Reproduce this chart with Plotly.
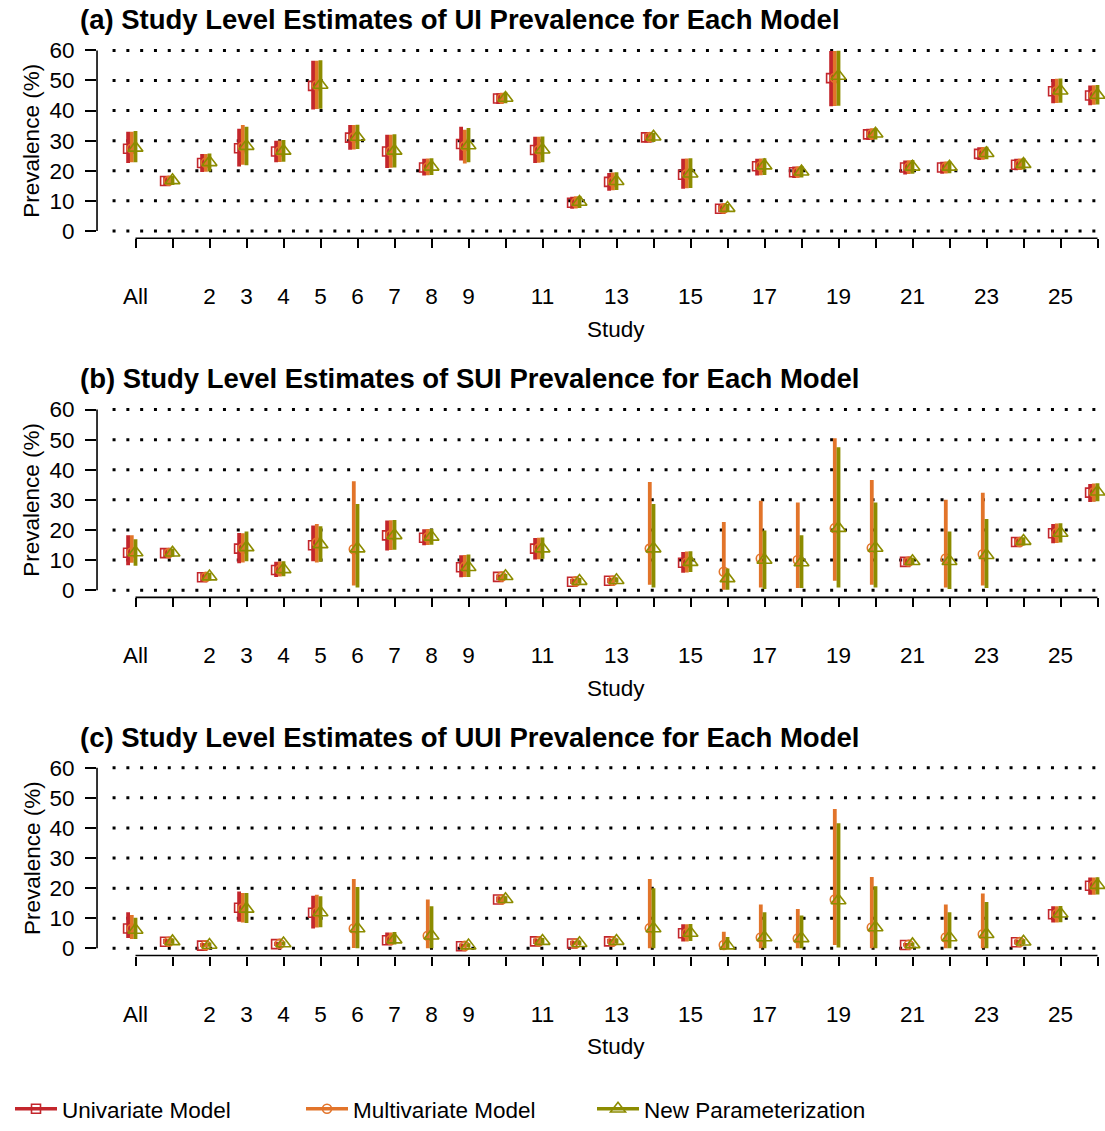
import plotly.graph_objects as go

# ---------------------------------------------------------------------------
# Data: study-level prevalence (%) estimates with 95% interval bounds
# index 0 = pooled ("All"), 1..26 = individual studies; None = not estimated
# ---------------------------------------------------------------------------
positions = list(range(27))
tick_labels = ["All", "", "2", "3", "4", "5", "6", "7", "8", "9", "", "11", "",
               "13", "", "15", "", "17", "", "19", "", "21", "", "23", "", "25", ""]
models = ["Univariate Model", "Multivariate Model", "New Parameterization"]

# (a) UI
ui_uni_est = [27.3, 16.6, 22.6, 27.5, 26.4, 48.2, 31.0, 26.4, 21.1, 28.9, 44.0, 26.9, 9.4, 16.3,
              31.1, 18.7, 7.4, 21.5, 19.5, 50.8, 32.1, 21.1, 21.1, 25.6, 22.0, 46.4, 45.0]
ui_uni_lo = [22.6, 15.2, 19.6, 21.4, 22.8, 40.4, 27.0, 20.9, 18.4, 23.4, 42.2, 22.6, 7.4, 13.4,
             29.4, 14.0, 6.2, 18.4, 17.6, 41.4, 30.2, 18.8, 19.0, 23.6, 20.2, 42.4, 41.8]
ui_uni_hi = [33.0, 18.2, 25.6, 34.0, 30.0, 56.6, 35.2, 32.0, 24.0, 34.6, 45.8, 31.3, 11.4, 19.3,
             32.4, 24.0, 8.8, 24.0, 21.4, 59.8, 34.0, 23.4, 23.0, 27.8, 24.0, 50.5, 48.3]
ui_mult_est = [27.4, 16.7, 22.7, 28.0, 26.5, 48.4, 31.1, 26.5, 21.2, 28.2, 44.1, 26.9, 9.5, 16.4,
               31.2, 18.9, 7.5, 21.6, 19.6, 50.9, 32.2, 21.2, 21.2, 25.7, 22.1, 46.5, 45.1]
ui_mult_lo = [22.8, 15.2, 19.7, 22.0, 22.9, 40.5, 27.1, 21.0, 18.5, 22.4, 42.3, 22.7, 7.5, 13.5,
              29.5, 14.2, 6.3, 18.5, 17.7, 41.5, 30.3, 18.9, 19.1, 23.7, 20.3, 42.5, 41.9]
ui_mult_hi = [33.0, 18.2, 25.6, 35.2, 30.1, 56.6, 35.2, 32.0, 24.1, 33.6, 45.9, 31.3, 11.5, 19.4,
              32.5, 24.1, 8.9, 24.1, 21.5, 59.8, 34.1, 23.5, 23.1, 27.9, 24.1, 50.6, 48.4]
ui_new_est = [27.6, 16.8, 22.8, 28.2, 26.6, 48.5, 31.2, 26.6, 21.3, 28.4, 44.2, 27.0, 9.6, 16.5,
              31.3, 19.0, 7.6, 21.7, 19.7, 51.5, 32.3, 21.3, 21.3, 25.8, 22.2, 46.6, 45.2]
ui_new_lo = [22.8, 15.3, 19.8, 21.8, 23.0, 40.6, 27.2, 21.1, 18.6, 22.8, 42.4, 22.8, 7.6, 13.6,
             29.6, 14.3, 6.4, 18.6, 17.8, 41.6, 30.4, 19.0, 19.2, 23.8, 20.4, 42.6, 42.0]
ui_new_hi = [33.2, 18.3, 25.7, 34.6, 30.2, 56.7, 35.3, 32.1, 24.2, 34.2, 46.0, 31.4, 11.6, 19.5,
             32.6, 24.2, 9.0, 24.2, 21.6, 59.9, 34.2, 23.6, 23.2, 28.0, 24.2, 50.7, 48.5]

# (b) SUI
sui_uni_est = [12.4, 12.3, 4.3, 13.8, 6.7, 14.9, None, 18.2, 17.4, 7.6, 4.4, 13.8, 2.8, 3.1,
               None, 9.1, None, None, None, None, None, 9.4, None, None, 16.0, 18.9, 32.4]
sui_uni_lo = [8.3, 11.0, 3.0, 8.9, 4.4, 9.6, None, 13.2, 14.9, 4.3, 3.4, 10.2, 2.0, 2.3,
              None, 5.8, None, None, None, None, None, 8.3, None, None, 14.6, 15.6, 29.3]
sui_uni_hi = [18.2, 13.6, 5.6, 19.0, 9.4, 21.5, None, 23.1, 20.2, 11.6, 5.2, 17.3, 3.8, 4.0,
              None, 12.7, None, None, None, None, None, 10.6, None, None, 17.4, 22.0, 35.3]
sui_mult_est = [12.6, 12.3, 4.4, 14.0, 6.8, 15.8, 13.6, 18.3, 17.6, 7.8, 4.5, 13.9, 2.9, 3.1,
                13.8, 9.2, 6.1, 10.5, 10.0, 20.6, 14.0, 9.5, 10.5, 11.9, 16.0, 19.0, 32.5]
sui_mult_lo = [9.1, 11.0, 3.1, 9.2, 4.5, 9.2, 1.5, 13.3, 15.0, 4.4, 3.5, 10.3, 2.1, 2.4,
               1.8, 5.9, 0.1, 0.9, 0.7, 3.1, 1.8, 8.4, 0.9, 1.5, 14.7, 15.7, 29.4]
sui_mult_hi = [18.2, 13.7, 5.7, 18.9, 9.5, 22.0, 36.2, 23.2, 20.3, 11.7, 5.3, 17.4, 3.9, 4.1,
               35.9, 12.8, 22.6, 29.7, 29.1, 50.5, 36.6, 10.7, 30.0, 32.4, 17.5, 22.1, 35.4]
sui_new_est = [12.5, 12.4, 4.5, 14.2, 6.9, 15.2, 13.8, 18.2, 17.7, 7.6, 4.6, 13.8, 3.0, 3.3,
               13.8, 9.3, 3.9, 10.0, 9.2, 20.6, 14.0, 9.6, 9.6, 11.6, 16.3, 19.0, 32.7]
sui_new_lo = [8.1, 11.1, 3.2, 9.6, 4.6, 9.4, 0.9, 13.4, 15.1, 4.4, 3.6, 10.4, 2.2, 2.5,
              0.9, 6.0, 0.1, 0.4, 0.7, 0.9, 0.9, 8.5, 0.4, 0.7, 14.8, 15.8, 29.5]
sui_new_hi = [16.9, 13.8, 5.8, 19.5, 9.6, 21.2, 28.6, 23.3, 20.4, 11.8, 5.4, 17.5, 4.0, 4.2,
              28.6, 12.9, 7.2, 19.8, 18.2, 47.5, 29.1, 10.8, 19.5, 23.6, 17.6, 22.2, 35.5]

# (c) UUI
uui_uni_est = [6.6, 2.2, 0.9, 13.5, 1.4, 11.8, None, 2.7, None, 0.7, 16.2, 2.3, 1.6, 2.3,
               None, 5.0, None, None, None, None, None, 1.1, None, None, 2.0, 11.3, 20.8]
uui_uni_lo = [3.4, 1.4, 0.4, 8.8, 0.8, 6.6, None, 1.2, None, 0.2, 15.2, 1.4, 1.0, 1.5,
              None, 2.3, None, None, None, None, None, 0.6, None, None, 1.3, 8.6, 17.8]
uui_uni_hi = [12.0, 3.2, 1.8, 18.9, 2.2, 17.5, None, 5.3, None, 1.6, 17.2, 3.3, 2.5, 3.2,
              None, 8.0, None, None, None, None, None, 1.8, None, None, 2.9, 14.0, 23.5]
uui_mult_est = [6.5, 2.2, 1.0, 13.3, 1.5, 12.0, 6.6, 2.8, 4.2, 0.8, 16.2, 2.3, 1.6, 2.3,
                6.7, 5.0, 1.1, 3.6, 3.3, 16.2, 6.9, 1.2, 3.6, 4.7, 2.1, 11.4, 20.9]
uui_mult_lo = [3.1, 1.4, 0.4, 8.6, 0.8, 6.9, 0.1, 1.2, 0.0, 0.2, 15.2, 1.4, 1.0, 1.5,
               0.0, 2.3, 0.0, 0.0, 0.0, 1.1, 0.0, 0.6, 0.0, 0.0, 1.3, 8.6, 17.8]
uui_mult_hi = [11.1, 3.2, 1.8, 18.4, 2.2, 17.8, 23.0, 5.3, 16.2, 1.6, 17.2, 3.3, 2.5, 3.2,
               23.0, 8.0, 5.5, 14.6, 13.1, 46.3, 23.7, 1.8, 14.6, 18.2, 2.9, 14.0, 23.5]
uui_new_est = [6.1, 2.3, 1.1, 13.1, 1.6, 11.9, 6.6, 2.9, 4.2, 0.9, 16.3, 2.4, 1.7, 2.4,
               6.6, 5.1, 0.9, 3.6, 3.3, 15.9, 6.9, 1.3, 3.6, 4.7, 2.2, 11.5, 21.0]
uui_new_lo = [3.1, 1.5, 0.5, 8.4, 0.9, 7.0, 0.0, 1.3, 0.0, 0.3, 15.3, 1.5, 1.1, 1.6,
              0.0, 2.4, 0.0, 0.0, 0.0, 0.3, 0.0, 0.7, 0.0, 0.0, 1.4, 8.7, 17.9]
uui_new_hi = [10.2, 3.3, 1.9, 18.4, 2.3, 17.3, 20.4, 5.4, 14.0, 1.7, 17.3, 3.4, 2.6, 3.3,
              20.0, 8.1, 3.8, 12.0, 10.9, 41.6, 20.6, 1.9, 12.0, 15.4, 3.0, 14.1, 23.6]

panels = [
    ("(a) Study Level Estimates of UI Prevalence for Each Model",
     [(ui_uni_est, ui_uni_lo, ui_uni_hi), (ui_mult_est, ui_mult_lo, ui_mult_hi),
      (ui_new_est, ui_new_lo, ui_new_hi)]),
    ("(b) Study Level Estimates of SUI Prevalence for Each Model",
     [(sui_uni_est, sui_uni_lo, sui_uni_hi), (sui_mult_est, sui_mult_lo, sui_mult_hi),
      (sui_new_est, sui_new_lo, sui_new_hi)]),
    ("(c) Study Level Estimates of UUI Prevalence for Each Model",
     [(uui_uni_est, uui_uni_lo, uui_uni_hi), (uui_mult_est, uui_mult_lo, uui_mult_hi),
      (uui_new_est, uui_new_lo, uui_new_hi)]),
]

# ---------------------------------------------------------------------------
# Styling
# ---------------------------------------------------------------------------
W, H = 1105, 1131
FONT = "Liberation Sans, Arial, Helvetica, sans-serif"
colors = ["#C3262C", "#E2742A", "#8C8C00"]
symbols = ["square-open", "circle-open", "triangle-up-open"]
msizes = [9, 9, 13]
offsets = [-0.2, -0.1, 0.0]

px_per_unit = 37.0
x_all_px = 135.5
x_range = [-1.04, (W - x_all_px) / px_per_unit]
y_range = [-2.4, 62.4]
panel_shift = [0, 364, 727]      # vertical pixel shift of each panel
y60_px, y0_px = 46.0, 229.0
ppy = (y0_px - y60_px) / 60.0


def py(p):
    return 1 - p / H


fig = go.Figure()
shapes, annotations = [], []

for k, (title, series) in enumerate(panels):
    s = panel_shift[k]
    xa = "x" if k == 0 else f"x{k + 1}"
    ya = "y" if k == 0 else f"y{k + 1}"
    bottom_px = y0_px + 2.4 * ppy + s
    top_px = y60_px - 2.4 * ppy + s

    fig.layout[("xaxis" if k == 0 else f"xaxis{k + 1}")] = dict(
        domain=[(x_all_px + x_range[0] * px_per_unit) / W, 1], range=x_range,
        anchor=ya, tickmode="array", tickvals=positions, ticktext=tick_labels,
        ticks="outside", ticklen=9, tickwidth=1.6, tickcolor="black",
        showline=False, showgrid=False, zeroline=False, ticklabelstandoff=29,
        tickfont=dict(family=FONT, size=22.5, color="black"), fixedrange=True)
    fig.layout[("yaxis" if k == 0 else f"yaxis{k + 1}")] = dict(
        domain=[py(bottom_px), py(top_px)], range=y_range, anchor=xa,
        tickmode="array", tickvals=[0, 10, 20, 30, 40, 50, 60],
        ticks="outside", ticklen=11, tickwidth=1.6, tickcolor="black",
        showline=False, showgrid=False, zeroline=False, ticklabelstandoff=6,
        tickfont=dict(family=FONT, size=22.5, color="black"), fixedrange=True)

    # dotted reference lines
    for v in range(0, 61, 10):
        shapes.append(dict(type="line", xref=xa, yref=ya, x0=-0.62, x1=x_range[1],
                           y0=v, y1=v, layer="below",
                           line=dict(color="black", width=3, dash="3px,10.8px")))
    # axis lines spanning only the tick range
    shapes.append(dict(type="line", xref=f"{xa} domain", yref=ya, x0=0, x1=0, y0=0, y1=60,
                       line=dict(color="black", width=1.6)))
    shapes.append(dict(type="line", xref=xa, yref=f"{ya} domain", x0=0, x1=26, y0=0, y1=0,
                       line=dict(color="black", width=1.6)))

    # estimates with interval bars
    for m, (est, lo, hi) in enumerate(series):
        up = [None if e is None else h - e for e, h in zip(est, hi)]
        dn = [None if e is None else e - l for e, l in zip(est, lo)]
        fig.add_trace(go.Scatter(
            x=[p + offsets[m] for p in positions], y=est, xaxis=xa, yaxis=ya,
            mode="markers", showlegend=False, cliponaxis=False, name=models[m],
            marker=dict(symbol=symbols[m], size=msizes[m], color=colors[m],
                        line=dict(width=1.6, color=colors[m])),
            error_y=dict(type="data", symmetric=False, array=up, arrayminus=dn,
                         thickness=3.8, width=0, color=colors[m])))

    annotations.append(dict(text=title, xref="paper", yref="paper", x=78 / W,
                            y=py(15 + s), xanchor="left", yanchor="middle", showarrow=False,
                            font=dict(family=FONT, size=27.5, color="black", weight="bold")))
    annotations.append(dict(text="Prevalence (%)", xref="paper", yref="paper", x=32 / W,
                            y=py((y0_px + y60_px) / 2 + s), xanchor="center",
                            yanchor="middle", textangle=-90, showarrow=False,
                            font=dict(family=FONT, size=22.5, color="black")))
    annotations.append(dict(text="Study", xref="paper", yref="paper", x=616 / W,
                            y=py(329 + s), xanchor="center", yanchor="middle",
                            showarrow=False,
                            font=dict(family=FONT, size=22.5, color="black")))

# legend entries
for m in range(3):
    fig.add_trace(go.Scatter(
        x=[None], y=[None], mode="lines+markers", name=models[m],
        line=dict(color=colors[m], width=3.6),
        marker=dict(symbol=symbols[m], size=msizes[m], color=colors[m],
                    line=dict(width=1.6, color=colors[m]))))

fig.update_layout(
    width=W, height=H, margin=dict(l=0, r=0, t=0, b=0),
    paper_bgcolor="white", plot_bgcolor="white",
    shapes=shapes, annotations=annotations,
    showlegend=True,
    legend=dict(orientation="h", x=10 / W, xanchor="left", y=py(1119), yanchor="middle",
                font=dict(family=FONT, size=22.5, color="black"),
                entrywidth=234, itemwidth=42, bgcolor="rgba(0,0,0,0)",
                tracegroupgap=0),
    font=dict(family=FONT, color="black"),
)

fig.write_html("out.html")
